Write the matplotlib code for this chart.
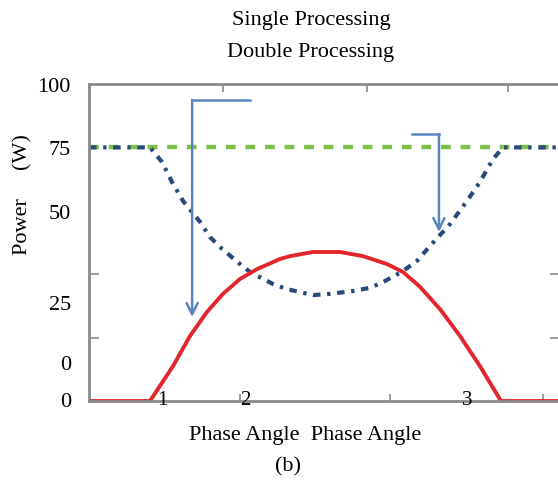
#!/usr/bin/env python3
# -*- coding: utf-8 -*-
"""
Power versus phase angle for single and double processing (panel b).
"""

# Import needed resources.
import matplotlib
matplotlib.use('Agg')
import matplotlib.pyplot as plt
from matplotlib.ticker import FixedLocator

################################################################
# Chart data (axis runs 0..100 in both directions).
red_x = [0, 12.95, 17.83, 21.44, 25.05, 28.45, 32.06, 35.67, 40.55, 42.68,
         47.56, 53.29, 58.17, 63.27, 66.67, 70.28, 74.52, 78.77, 83.01, 87.47, 100]
red_y = [0, 0, 11.0, 20.5, 28.1, 33.8, 38.5, 41.6, 44.8, 45.7,
         47.0, 47.0, 45.7, 43.2, 40.7, 36.0, 29.0, 20.5, 11.0, 0, 0]

blue_x = [0, 12.95, 15.50, 17.62, 19.96, 23.57, 25.69, 28.24, 32.06, 34.18,
          39.07, 42.04, 47.56, 51.17, 56.05, 59.66, 62.42, 66.67, 69.64, 72.40,
          76.65, 80.25, 83.01, 85.77, 87.90, 100]
blue_y = [80, 80, 75.4, 69.1, 63.1, 56.5, 51.7, 48.0, 43.2, 40.7,
          36.9, 35.3, 33.4, 33.8, 34.7, 35.7, 37.5, 41.0, 44.2, 48.9,
          55.8, 63.1, 69.1, 76.3, 80, 80]

green_x = [0, 100]
green_y = [80, 80]

# Annotation arrows: corner path (start, corner, end).
arrow1 = [(34.2, 95.0), (21.9, 95.0), (21.9, 26.5)]
arrow2 = [(68.6, 84.2), (74.3, 84.2), (74.3, 53.3)]

# Tick labels as printed in the figure.
ytick_pos = [100, 80, 60, 31.2, 12.3, 0.6]
ytick_labels = ['100', '75', '50', '25', '0', '0']
ytick_marks = [0, 20, 40, 60, 80, 100]
xtick_pos = [15.5, 33.1, 80.3]
xtick_labels = ['1', '2', '3']
xtick_bottom = [32.1, 63.9, 96.4]
xtick_top = [28.5, 59.0, 89.0]

title_lines = ['Single Processing', 'Double Processing']

################################################################
# Configure the figure.
plt.rcParams['font.family'] = ['Liberation Serif', 'DejaVu Serif']
fig = plt.figure(figsize=(5.58, 4.85), dpi=100)
ax = fig.add_axes([89 / 558, 83 / 485, 471 / 558, 317 / 485])
ax.set_xlim(0, 100)
ax.set_ylim(0, 100)

spine_color = '#8a8a8a'
for side in ['left', 'bottom', 'top', 'right']:
    ax.spines[side].set_color(spine_color)
    ax.spines[side].set_linewidth(2.0)

# Data series.
ax.plot(green_x, green_y, color='#7cc04a', lw=3.2, dashes=(2.2, 2.2))
ax.plot(blue_x, blue_y, color='#2a4a7a', lw=3.0, dashes=(1.8, 1.6, 0.8, 1.6))
ax.plot(red_x, red_y, color='#e3262d', lw=2.8, solid_capstyle='butt',
        solid_joinstyle='round')

# Annotation arrows.
arrow_color = '#5a86bf'
for path in [arrow1, arrow2]:
    ax.plot([path[0][0], path[1][0]], [path[0][1], path[1][1]],
            color=arrow_color, lw=1.8)
    ax.annotate('', xy=path[2], xytext=path[1],
                arrowprops=dict(arrowstyle='->', color=arrow_color, lw=1.8,
                                mutation_scale=20, shrinkA=0, shrinkB=0))

# Y axis: printed labels without marks, inward marks on a separate locator.
ax.set_yticks(ytick_pos)
ax.set_yticklabels(ytick_labels, fontsize=16)
ax.tick_params(axis='y', which='major', length=0, pad=13)
ax.yaxis.set_minor_locator(FixedLocator(ytick_marks))
ax.tick_params(axis='y', which='minor', direction='in', length=7,
               width=1.2, color=spine_color, left=True, right=True)

# X axis: marks only, labels sit on the spine.
ax.set_xticks(xtick_bottom)
ax.set_xticklabels([])
ax.tick_params(axis='x', which='major', direction='in', length=5,
               width=1.2, color=spine_color, bottom=True, top=False)
top_ax = ax.secondary_xaxis('top')
top_ax.set_xticks(xtick_top)
top_ax.set_xticklabels([])
top_ax.tick_params(direction='in', length=6, width=1.2, color=spine_color)
top_ax.spines['top'].set_visible(False)
for pos, lab in zip(xtick_pos, xtick_labels):
    ax.text(pos, 0.5, lab, ha='center', va='center', fontsize=15)

# Labels and titles.
ax.set_ylabel('Power     (W)', fontsize=16)
ax.yaxis.set_label_coords(-0.12, 0.655)
fig.text(311 / 558, 1 - 20 / 485, title_lines[0], ha='center', va='center', fontsize=16)
fig.text(311 / 558, 1 - 53 / 485, title_lines[1], ha='center', va='center', fontsize=16)
fig.text(305 / 558, 1 - 436 / 485, 'Phase Angle  Phase Angle', ha='center', va='center', fontsize=16)
fig.text(288 / 558, 1 - 467 / 485, '(b)', ha='center', va='center', fontsize=16)

plt.savefig('out.png', dpi=100)
